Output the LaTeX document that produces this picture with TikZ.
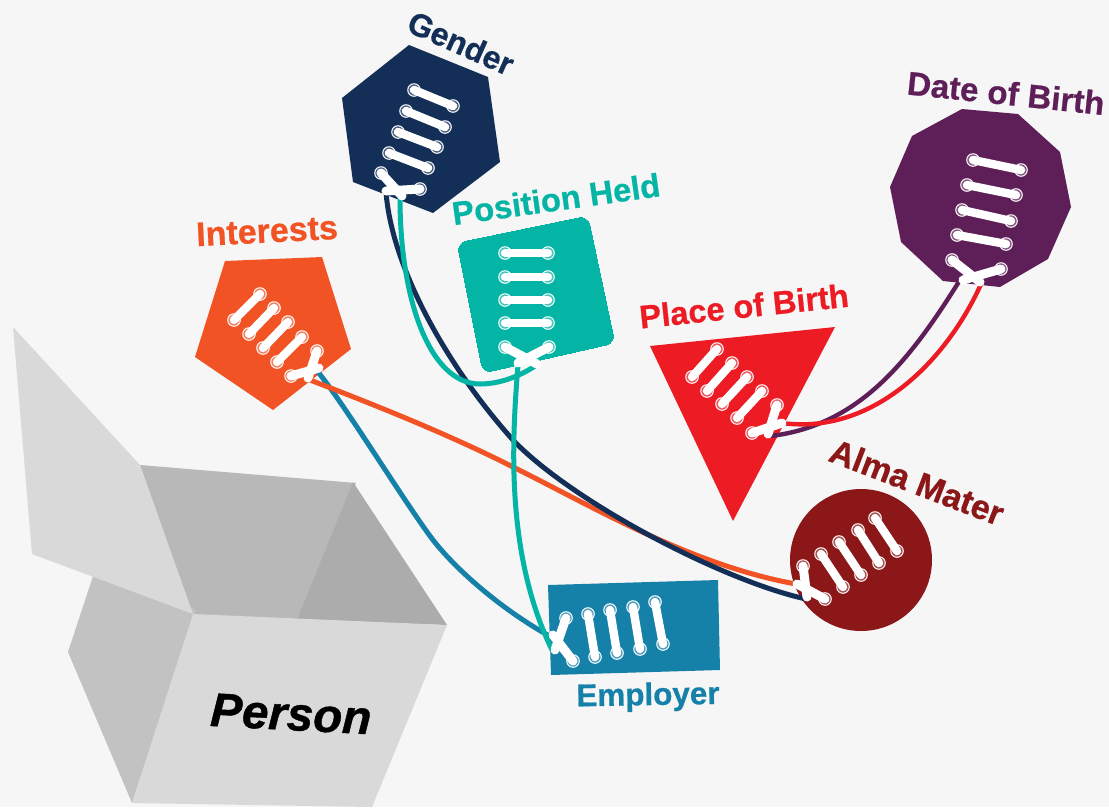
\documentclass[tikz,border=0pt]{standalone}
\usepackage{fontspec}
\setmainfont[BoldFeatures={FakeBold=0.7},BoldItalicFeatures={FakeBold=0.9}]{Liberation Sans}
\definecolor{bgc}{HTML}{F6F6F6}
\definecolor{cnavy}{HTML}{132F57}
\definecolor{cteal}{HTML}{04B5A6}
\definecolor{corange}{HTML}{F15324}
\definecolor{cred}{HTML}{ED1C24}
\definecolor{cmaroon}{HTML}{8B1718}
\definecolor{cblue}{HTML}{1580A8}
\definecolor{cpurple}{HTML}{5E1F58}
\definecolor{boxa}{HTML}{D9D9D9}
\definecolor{boxb}{HTML}{B8B8B8}
\definecolor{boxc}{HTML}{ACACAC}
\definecolor{boxd}{HTML}{D9D9D9}
\definecolor{boxe}{HTML}{C2C2C2}
\tikzset{
  cord/.style={line width=5pt},
  thincord/.style={line width=4.4pt},
  labeltext/.style={font=\bfseries\fontsize{#1}{36}\selectfont,inner sep=0pt},
}
% an eyelet: thin white ring, tinted inside
\newcommand{\eyelet}[2]{%
  \fill[white] (#2) circle[radius=6.8];
  \fill[#1!75!white] (#2) circle[radius=5.7];
}
% a lace between two eyelets
\newcommand{\lacerow}[3]{%
  \eyelet{#1}{#2}\eyelet{#1}{#3}
  \draw[white,line width=8.4pt,line cap=round] (#2) -- (#3);
}
% a lace from an eyelet to a free end
\newcommand{\lacefree}[3]{%
  \eyelet{#1}{#2}
  \draw[white,line width=9pt,line cap=round] (#2) -- (#3);
}
\begin{document}
\begin{tikzpicture}[x=1pt,y=-1pt]
\useasboundingbox (0,0) rectangle (1109,807);
\fill[bgc] (0,0) rectangle (1109,807);

% box
\fill[boxb] (140,465) -- (356,483) -- (302,620) -- (193,616) -- cycle;
\fill[boxc] (353,482) -- (447,625) -- (297,620) -- cycle;
\fill[boxe] (95,570) -- (196,610) -- (132,803) -- (68,652) -- cycle;
\fill[boxd] (193,614) -- (447,625) -- (372,807) -- (132,803) -- cycle;
\fill[boxa] (13,327) -- (140,465) -- (193,614) -- (32,554) -- cycle;
\node[font=\bfseries\itshape\fontsize{47.5}{50}\selectfont,rotate=-3,inner sep=0pt] (person) at (291,714) {Person};

% shapes
\fill[cnavy] (409,45) -- (488,77) -- (500,162) -- (433,213) -- (353,182) -- (342,98) -- cycle;
\fill[cpurple] (962,109) -- (1018,114) -- (1060,152) -- (1071,207) -- (1048,259) -- (1000,287) -- (943,281) -- (901,242) -- (890,187) -- (912,136) -- cycle;
\fill[cblue] (548,585) -- (718,580) -- (720,670) -- (551,675) -- cycle;
\fill[cmaroon] (861,560) circle[radius=71];
\fill[cred] (650,346) -- (835,327) -- (733,521) -- cycle;
\fill[corange] (225,261) -- (322,257) -- (351,349) -- (273,410) -- (195,357) -- cycle;
\draw[cteal,fill=cteal,rounded corners=9pt,line width=0pt] (457,243) -- (588,216) -- (615,343) -- (483,373) -- cycle;

% connector ends
\coordinate (gA) at (386,192);
\coordinate (gB) at (400,198);
\coordinate (pA) at (535,366);
\coordinate (pB) at (518,365);
\coordinate (iA) at (310,380);
\coordinate (iB) at (318,372);
\coordinate (bA) at (771,436);
\coordinate (bB) at (782,423);
\coordinate (dA) at (960,280);
\coordinate (dB) at (982,282);
\coordinate (aA) at (796,584);
\coordinate (aB) at (806,599);
\coordinate (eA) at (553,638);
\coordinate (eB) at (553,652);

% connectors
\draw[cord,cblue] (iB) .. controls (345,405) and (405,503) .. (433,540) .. controls (458,572) and (505,612) .. (eA);
\draw[cord,corange] (iA) .. controls (380,407) and (450,435) .. (513,467) .. controls (590,505) and (690,565) .. (aA);
\draw[cord,cnavy] (gA) .. controls (392,270) and (450,370) .. (513,440) .. controls (570,500) and (720,580) .. (aB);
\draw[cord,cteal] (gB) .. controls (400,300) and (430,384) .. (480,384) .. controls (500,384) and (520,376) .. (pA);
\draw[cord,cteal] (pB) .. controls (512,440) and (505,555) .. (eB);
\draw[thincord,cpurple] (bA) .. controls (860,425) and (910,360) .. (dA);
\draw[thincord,cred] (bB) .. controls (870,435) and (945,365) .. (dB);

% laces
\lacerow{cnavy}{414,90}{453,106}
\lacerow{cnavy}{406,111}{445,127}
\lacerow{cnavy}{398,132}{437,147}
\lacerow{cnavy}{389,153}{428,168}
\lacefree{cnavy}{381,173}{402,196}
\lacefree{cnavy}{420,189}{386,191}

\lacerow{cteal}{505,253}{548,253}
\lacerow{cteal}{505,277}{548,277}
\lacerow{cteal}{505,300}{548,300}
\lacerow{cteal}{505,323}{548,323}
\lacefree{cteal}{505,347}{537,364}
\lacefree{cteal}{549,347}{518,363}

\lacerow{corange}{260,294}{234,320}
\lacerow{corange}{274,308}{249,334}
\lacerow{corange}{288,322}{263,348}
\lacerow{corange}{302,337}{277,362}
\lacefree{corange}{317,351}{308,378}
\lacefree{corange}{291,376}{319,368}

\lacerow{cred}{717,349}{692,377}
\lacerow{cred}{732,363}{707,391}
\lacerow{cred}{747,377}{722,404}
\lacerow{cred}{762,391}{737,418}
\lacefree{cred}{777,405}{768,434}
\lacefree{cred}{752,433}{782,423}

\lacerow{cmaroon}{875,518}{897,551}
\lacerow{cmaroon}{858,530}{879,563}
\lacerow{cmaroon}{839,542}{861,575}
\lacerow{cmaroon}{821,554}{843,587}
\lacefree{cmaroon}{803,566}{807,597}
\lacefree{cmaroon}{825,599}{797,584}

\lacerow{cblue}{655,602}{663,644}
\lacerow{cblue}{633,607}{640,649}
\lacerow{cblue}{610,610}{617,653}
\lacerow{cblue}{588,614}{595,657}
\lacefree{cblue}{566,618}{555,650}
\lacefree{cblue}{573,661}{553,635}

\lacerow{cpurple}{973,160}{1021,170}
\lacerow{cpurple}{967,185}{1016,195}
\lacerow{cpurple}{962,210}{1011,221}
\lacerow{cpurple}{957,235}{1006,244}
\lacefree{cpurple}{952,260}{980,282}
\lacefree{cpurple}{1001,269}{963,280}

% labels
\node[labeltext=32,text=cnavy,rotate=-24] (tgender) at (461,43) {Gender};
\node[labeltext=32.8,text=cteal,rotate=8] (tpos) at (556,199) {Position Held};
\node[labeltext=34,text=corange,rotate=3] (tint) at (267,231) {Interests};
\node[labeltext=32.6,text=cred,rotate=6] (tplace) at (744,306) {Place of Birth};
\node[labeltext=34,text=cmaroon,rotate=-21] (talma) at (917,482) {Alma Mater};
\node[labeltext=31.4,text=cblue,rotate=1] (temp) at (648,697) {Employer};
\node[labeltext=33,text=cpurple,rotate=-6] (tdate) at (1006,93) {Date of Birth};
\end{tikzpicture}
\end{document}
